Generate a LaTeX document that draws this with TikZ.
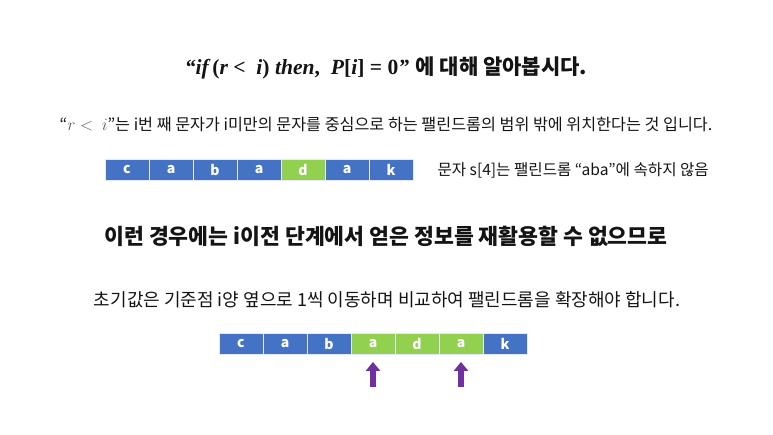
\documentclass[tikz,border=0pt]{standalone}
\usepackage{amsmath}
\usepackage{amssymb}
\usepackage[no-math]{fontspec}
\newfontfamily\kr{Noto Sans CJK KR}
\newfontfamily\eq{Liberation Serif}
\usetikzlibrary{positioning,arrows.meta}
\definecolor{ink}{HTML}{141414}
\definecolor{cellblue}{HTML}{4472C4}
\definecolor{cellgreen}{HTML}{92D050}
\definecolor{uparrow}{HTML}{7030A0}

\begin{document}
\begin{tikzpicture}[x=1pt,y=-1pt,node distance=44pt,on grid,text=ink,
	cell/.style={draw=white!85!cellblue,line width=0.8pt,fill=cellblue,minimum width=44pt,minimum height=21pt,inner sep=0pt,text=white,font=\kr\bfseries\fontsize{14}{14}\selectfont},
	hit/.style={cell,fill=cellgreen},
	up/.style={draw=uparrow,line width=5.5pt,-{Triangle[width=14pt,length=9pt]},shorten >=7pt},
	body/.style={font=\kr\fontsize{15.6}{15.6}\selectfont},
	head/.style={font=\kr\bfseries\fontsize{21.6}{21.6}\selectfont}]
	\useasboundingbox (0,0) rectangle (773,435);
	\node[font=\fontsize{21.6}{21.6}\selectfont] (ttl) at (386,68) {{\eq\bfseries\itshape “if}{\eq\bfseries\,(}{\eq\bfseries\itshape r}{\eq\bfseries\ <\ \ }{\eq\bfseries\itshape i}{\eq\bfseries)\ }{\eq\bfseries\itshape then}{\eq\bfseries,\ \ }{\eq\bfseries\itshape P}{\eq\bfseries[}{\eq\bfseries\itshape i}{\eq\bfseries] = 0}{\eq\bfseries\itshape ”} {\kr\bfseries\fontsize{21}{21}\selectfont 에 대해 알아봅시다.}};
	\node[body,font=\kr\fontsize{16.2}{16.2}\selectfont] (why) at (386,124) {“{\color{ink!70}$r<\ i$}”는 i번 째 문자가 i미만의 문자를 중심으로 하는 팰린드롬의 범위 밖에 위치한다는 것 입니다.};
	\node[cell] (a1) at (127,170) {c};
	\node[cell] (a2) [right=of a1] {a};
	\node[cell] (a3) [right=of a2] {b};
	\node[cell] (a4) [right=of a3] {a};
	\node[hit] (a5) [right=of a4] {d};
	\node[cell] (a6) [right=of a5] {a};
	\node[cell] (a7) [right=of a6] {k};
	\node[body,anchor=west] (note) at (434,170) {문자 s[4]는 팰린드롬 “aba”에 속하지 않음};
	\node[head] (sowhat) at (386,236) {이런 경우에는 i이전 단계에서 얻은 정보를 재활용할 수 없으므로};
	\node[font=\kr\fontsize{18}{18}\selectfont] (init) at (387,300) {초기값은 기준점 i양 옆으로 1씩 이동하며 비교하여 팰린드롬을 확장해야 합니다.};
	\node[cell] (b1) at (241,344) {c};
	\node[cell] (b2) [right=of b1] {a};
	\node[cell] (b3) [right=of b2] {b};
	\node[hit] (b4) [right=of b3] {a};
	\node[hit] (b5) [right=of b4] {d};
	\node[hit] (b6) [right=of b5] {a};
	\node[cell] (b7) [right=of b6] {k};
	\coordinate (l) at (373,387);
	\coordinate (r) at (461,387);
	\draw[up] (l) -- (b4);
	\draw[up] (r) -- (b6);
\end{tikzpicture}
\end{document}
